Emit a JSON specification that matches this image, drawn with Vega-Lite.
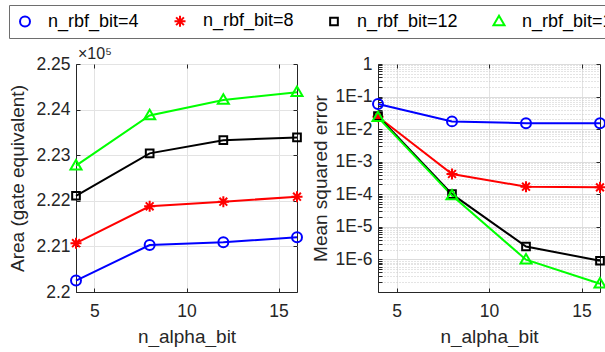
{
  "$schema": "https://vega.github.io/schema/vega-lite/v6.json",
  "padding": {"left": 8, "top": 4, "right": 0, "bottom": 0},
  "background": "white",
  "bounds": "flush",
  "spacing": 81,
  "config": {
    "font": "Liberation Sans",
    "view": {"stroke": "#262626", "strokeWidth": 1},
    "axis": {
      "domainColor": "#262626", "tickColor": "#262626", "labelColor": "#262626", "titleColor": "#262626",
      "labelFont": "Liberation Sans", "titleFont": "Liberation Sans", "labelFontSize": 17.5, "titleFontSize": 19,
      "titleFontWeight": "normal", "gridColor": "#e3e3e3", "gridWidth": 1, "tickSize": -4, "tickWidth": 1
    },
    "axisX": {"labelPadding": 14, "titlePadding": 8, "labelAngle": 0},
    "axisY": {"labelPadding": 10, "titlePadding": 8},
    "legend": {"labelFont": "Liberation Sans"}
  },
  "datasets": {
    "area": [
      {"n_alpha_bit": 4, "n_rbf_bit": 4, "area": 220250},
      {"n_alpha_bit": 8, "n_rbf_bit": 4, "area": 221030},
      {"n_alpha_bit": 12, "n_rbf_bit": 4, "area": 221090},
      {"n_alpha_bit": 16, "n_rbf_bit": 4, "area": 221200},
      {"n_alpha_bit": 4, "n_rbf_bit": 8, "area": 221070},
      {"n_alpha_bit": 8, "n_rbf_bit": 8, "area": 221880},
      {"n_alpha_bit": 12, "n_rbf_bit": 8, "area": 221980},
      {"n_alpha_bit": 16, "n_rbf_bit": 8, "area": 222090},
      {"n_alpha_bit": 4, "n_rbf_bit": 12, "area": 222110},
      {"n_alpha_bit": 8, "n_rbf_bit": 12, "area": 223040},
      {"n_alpha_bit": 12, "n_rbf_bit": 12, "area": 223330},
      {"n_alpha_bit": 16, "n_rbf_bit": 12, "area": 223390},
      {"n_alpha_bit": 4, "n_rbf_bit": 16, "area": 222770},
      {"n_alpha_bit": 8, "n_rbf_bit": 16, "area": 223870},
      {"n_alpha_bit": 12, "n_rbf_bit": 16, "area": 224210},
      {"n_alpha_bit": 16, "n_rbf_bit": 16, "area": 224380}
    ],
    "mse": [
      {"n_alpha_bit": 4, "n_rbf_bit": 4, "mse": 0.059},
      {"n_alpha_bit": 8, "n_rbf_bit": 4, "mse": 0.0173},
      {"n_alpha_bit": 12, "n_rbf_bit": 4, "mse": 0.0152},
      {"n_alpha_bit": 16, "n_rbf_bit": 4, "mse": 0.0151},
      {"n_alpha_bit": 4, "n_rbf_bit": 8, "mse": 0.024},
      {"n_alpha_bit": 8, "n_rbf_bit": 8, "mse": 0.00042},
      {"n_alpha_bit": 12, "n_rbf_bit": 8, "mse": 0.000171},
      {"n_alpha_bit": 16, "n_rbf_bit": 8, "mse": 0.000163},
      {"n_alpha_bit": 4, "n_rbf_bit": 12, "mse": 0.025},
      {"n_alpha_bit": 8, "n_rbf_bit": 12, "mse": 0.000101},
      {"n_alpha_bit": 12, "n_rbf_bit": 12, "mse": 0.0000025},
      {"n_alpha_bit": 16, "n_rbf_bit": 12, "mse": 0.00000091},
      {"n_alpha_bit": 4, "n_rbf_bit": 16, "mse": 0.023},
      {"n_alpha_bit": 8, "n_rbf_bit": 16, "mse": 0.000091},
      {"n_alpha_bit": 12, "n_rbf_bit": 16, "mse": 0.00000098},
      {"n_alpha_bit": 16, "n_rbf_bit": 16, "mse": 0.00000018}
    ]
  },
  "resolve": {"scale": {"color": "shared", "shape": "shared"}, "legend": {"color": "shared"}},
  "hconcat": [
    {
      "width": 221, "height": 228,
      "data": {"name": "area"},
      "title": {"text": "×10⁵", "anchor": "start", "frame": "group", "fontSize": 16, "fontWeight": "normal", "color": "#262626", "offset": -7, "dx": 2, "font": "Liberation Sans"},
      "resolve": {"axis": {"x": "independent", "y": "independent"}},
      "layer": [
        {
          "mark": {"type": "line", "strokeWidth": 2},
          "encoding": {
            "x": {"field": "n_alpha_bit", "type": "quantitative", "scale": {"domain": [4, 16], "nice": false},
                  "axis": {"values": [5, 10, 15], "title": "n_alpha_bit", "grid": true}},
            "y": {"field": "area", "type": "quantitative", "scale": {"domain": [220000, 225000], "nice": false, "zero": false},
                  "axis": {"values": [220000, 221000, 222000, 223000, 224000, 225000], "labelExpr": "format(datum.value/100000, '.3~f')", "title": "Area (gate equivalent)", "grid": true}},
            "color": {"field": "n_rbf_bit", "type": "nominal",
                      "scale": {"domain": [4, 8, 12, 16], "range": ["#0000ff", "#ff0000", "#000000", "#00ff00"]},
                      "legend": {
                        "title": null, "orient": "none", "legendX": -67, "legendY": -59, "direction": "horizontal",
                        "strokeColor": "#6e6e6e", "fillColor": "white", "padding": 7, "symbolSize": 144, "symbolStrokeWidth": 2,
                        "labelFontSize": 18, "labelColor": "#000000", "labelOffset": 14, "columnPadding": 31, "labelLimit": 200,
                        "labelExpr": "'n_rbf_bit=' + datum.label"
                      }}
          }
        },
        {
          "mark": {"type": "point", "filled": false, "strokeWidth": 2, "size": 144, "opacity": 1},
          "encoding": {
            "x": {"field": "n_alpha_bit", "type": "quantitative", "scale": {"domain": [4, 16], "nice": false},
                  "axis": {"orient": "top", "values": [5, 10, 15], "labels": false, "title": null, "grid": false, "domain": false}},
            "y": {"field": "area", "type": "quantitative", "scale": {"domain": [220000, 225000], "nice": false, "zero": false},
                  "axis": {"orient": "right", "values": [220000, 221000, 222000, 223000, 224000, 225000], "labels": false, "title": null, "grid": false, "domain": false}},
            "color": {"field": "n_rbf_bit", "type": "nominal"},
            "shape": {"field": "n_rbf_bit", "type": "nominal", "legend": null,
                      "scale": {"domain": [4, 8, 12, 16], "range": [
                        "M0.83,0A0.83,0.83,0,1,1,-0.83,0A0.83,0.83,0,1,1,0.83,0Z",
                        "M0,-0.92V0.92M-0.92,0H0.92M-0.65,-0.65L0.65,0.65M-0.65,0.65L0.65,-0.65",
                        "M-0.64,-0.64H0.64V0.64H-0.64Z",
                        "M0,-0.95L0.92,0.62H-0.92Z"]}}
          }
        }
      ]
    },
    {
      "width": 222, "height": 228,
      "data": {"name": "mse"},
      "resolve": {"axis": {"x": "independent", "y": "independent"}},
      "layer": [
        {
          "mark": {"type": "line", "strokeWidth": 2},
          "encoding": {
            "x": {"field": "n_alpha_bit", "type": "quantitative", "scale": {"domain": [4, 16], "nice": false},
                  "axis": {"values": [5, 10, 15], "title": "n_alpha_bit", "grid": true}},
            "y": {"field": "mse", "type": "quantitative", "scale": {"type": "log", "domain": [1e-7, 1], "nice": false},
                  "axis": {
                    "values": [1e-7,2e-7,3e-7,4e-7,5e-7,6e-7,7e-7,8e-7,9e-7,1e-6,2e-6,3e-6,4e-6,5e-6,6e-6,7e-6,8e-6,9e-6,1e-5,2e-5,3e-5,4e-5,5e-5,6e-5,7e-5,8e-5,9e-5,1e-4,2e-4,3e-4,4e-4,5e-4,6e-4,7e-4,8e-4,9e-4,1e-3,2e-3,3e-3,4e-3,5e-3,6e-3,7e-3,8e-3,9e-3,1e-2,2e-2,3e-2,4e-2,5e-2,6e-2,7e-2,8e-2,9e-2,0.1,0.2,0.3,0.4,0.5,0.6,0.7,0.8,0.9,1],
                    "labelExpr": "abs(log(datum.value)/LN10 - round(log(datum.value)/LN10)) < 0.001 && datum.value > 2e-7 ? (round(log(datum.value)/LN10) == 0 ? '1' : '1E' + round(log(datum.value)/LN10)) : ''",
                    "title": "Mean squared error", "grid": true,
                    "gridDash": {"condition": {"test": "abs(log(datum.value)/LN10 - round(log(datum.value)/LN10)) < 0.001", "value": []}, "value": [1, 2]},
                    "gridColor": {"condition": {"test": "abs(log(datum.value)/LN10 - round(log(datum.value)/LN10)) < 0.001", "value": "#dcdcdc"}, "value": "#c8c8c8"},
                    "titlePadding": 5
                  }},
            "color": {"field": "n_rbf_bit", "type": "nominal"}
          }
        },
        {
          "mark": {"type": "point", "filled": false, "strokeWidth": 2, "size": 144, "opacity": 1},
          "encoding": {
            "x": {"field": "n_alpha_bit", "type": "quantitative", "scale": {"domain": [4, 16], "nice": false},
                  "axis": {"orient": "top", "values": [5, 10, 15], "labels": false, "title": null, "grid": false, "domain": false}},
            "y": {"field": "mse", "type": "quantitative", "scale": {"type": "log", "domain": [1e-7, 1], "nice": false},
                  "axis": {"orient": "right", "values": [1e-7,1e-6,1e-5,1e-4,1e-3,1e-2,0.1,1], "labels": false, "title": null, "grid": false, "domain": false}},
            "color": {"field": "n_rbf_bit", "type": "nominal"},
            "shape": {"field": "n_rbf_bit", "type": "nominal", "legend": null}
          }
        }
      ]
    }
  ]
}
